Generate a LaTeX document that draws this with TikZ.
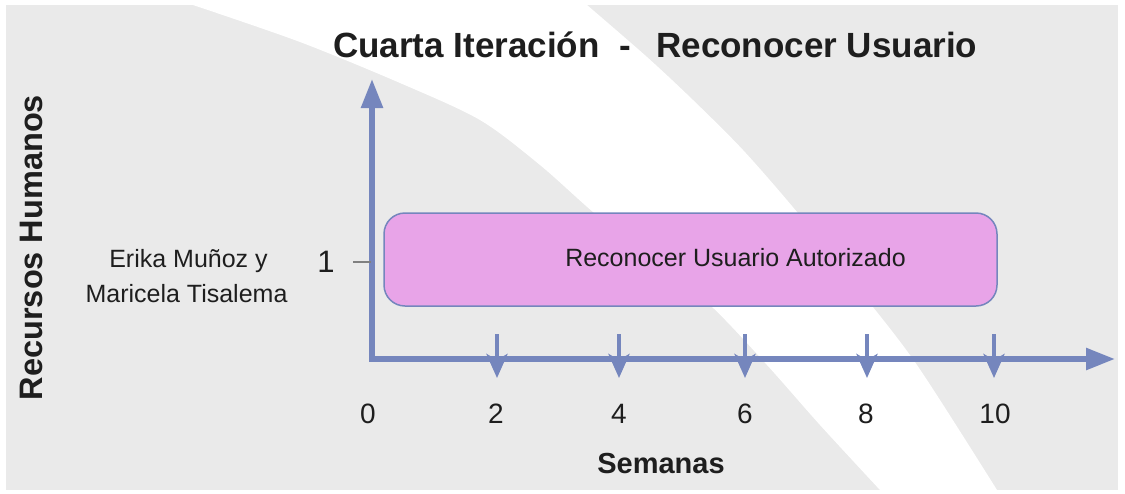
\documentclass[tikz,border=0pt]{standalone}
\usepackage{fontspec}
\setmainfont{Liberation Sans}
\usetikzlibrary{arrows.meta}
\definecolor{fondo}{RGB}{234,234,234}
\definecolor{azul}{RGB}{117,134,189}
\definecolor{rosa}{RGB}{232,164,232}
\definecolor{texto}{RGB}{30,30,30}
\begin{document}
\begin{tikzpicture}[x=1pt,y=-1pt,
		eje/.style={azul,line width=5.5pt,{Triangle[length=29pt,width=21pt]}-{Triangle[length=29pt,width=21pt]}},
		marca/.style={azul,line width=4.5pt,-{Stealth[length=24pt,width=21pt,inset=6pt]}},
		tareabox/.style={draw=azul,line width=1.5pt,fill=rosa,rounded corners=21pt,minimum width=613pt,minimum height=93pt,inner sep=0pt},
		etiq/.style={text=texto,inner sep=0pt,anchor=base}]
	\useasboundingbox (0,0) rectangle (1125,493);
	\fill[white] (0,0) rectangle (1125,493);
	\fill[fondo] (6,5) rectangle (1118,490);
	% franja blanca
	\fill[white] plot[smooth] coordinates {(193,5) (300,42) (400,83) (480,120) (540,165) (593,212) (650,258) (710,305) (767,365) (820,425) (880,490)}
		-- plot[smooth] coordinates {(997,490) (917,365) (857,287) (797,212) (743,150) (693,100) (647,57) (587,5)} -- cycle;
	\coordinate (O) at (372,359);
	\coordinate (Y) at (372,79);
	\coordinate (X) at (1115,359);
	\coordinate (T2) at (497,334);
	\coordinate (B2) at (497,378);
	\coordinate (T4) at (619,334);
	\coordinate (B4) at (619,378);
	\coordinate (T6) at (745,334);
	\coordinate (B6) at (745,378);
	\coordinate (T8) at (867,334);
	\coordinate (B8) at (867,378);
	\coordinate (T10) at (994,334);
	\coordinate (B10) at (994,378);
	\coordinate (U) at (353,262);
	\coordinate (V) at (371,262);
	\draw[eje] (Y) -- (O) -- (X);
	\draw[marca] (T2) -- (B2);
	\draw[marca] (T4) -- (B4);
	\draw[marca] (T6) -- (B6);
	\draw[marca] (T8) -- (B8);
	\draw[marca] (T10) -- (B10);
	\draw[gray,line width=2.5pt] (U) -- (V);
	\node[tareabox] (tarea) at (690.5,259.5) {};
	\node[etiq,anchor=center,font=\fontsize{25}{30}\selectfont] (tareatxt) at (735.5,258) {Reconocer Usuario Autorizado};
	\node[etiq,anchor=base west,font=\fontsize{35}{40}\selectfont\bfseries] (titulo) at (333,57) {Cuarta Iteración\hspace{20pt}-\hspace{25pt}Reconocer Usuario};
	\node[etiq,rotate=90,font=\fontsize{32.5}{38}\selectfont\bfseries] (rh) at (42,247.5) {Recursos Humanos};
	\node[etiq,font=\fontsize{25}{30}\selectfont] (nombre1) at (188.5,267) {Erika Muñoz y};
	\node[etiq,font=\fontsize{25}{30}\selectfont] (nombre2) at (186.5,302) {Maricela Tisalema};
	\node[etiq,font=\fontsize{31}{36}\selectfont] (r1) at (326,272) {1};
	\node[etiq,font=\fontsize{28}{32}\selectfont] (n0) at (368,423) {0};
	\node[etiq,font=\fontsize{28}{32}\selectfont] (n2) at (496,423) {2};
	\node[etiq,font=\fontsize{28}{32}\selectfont] (n4) at (619,423) {4};
	\node[etiq,font=\fontsize{28}{32}\selectfont] (n6) at (745,423) {6};
	\node[etiq,font=\fontsize{28}{32}\selectfont] (n8) at (866,423) {8};
	\node[etiq,font=\fontsize{28}{32}\selectfont] (n10) at (995,423) {10};
	\node[etiq,font=\fontsize{29}{34}\selectfont\bfseries] (sem) at (661,473) {Semanas};
\end{tikzpicture}
\end{document}
